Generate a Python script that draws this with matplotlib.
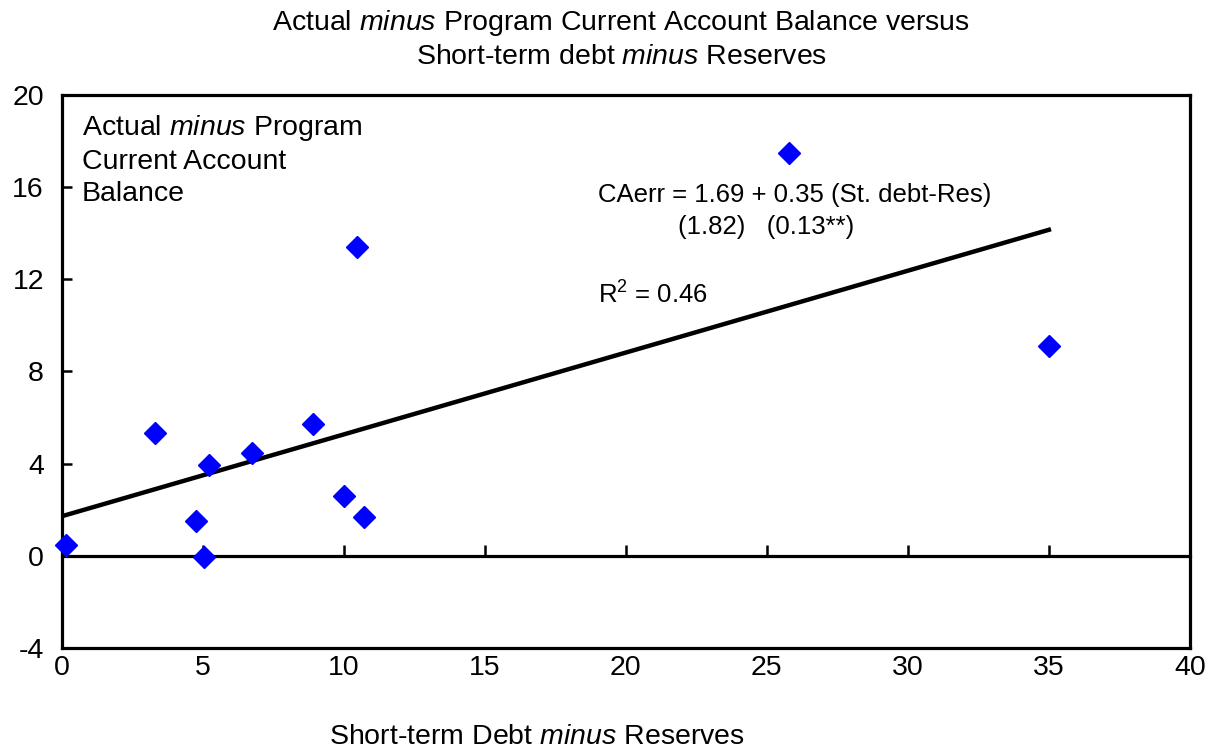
import numpy as np
import matplotlib.pyplot as plt

plt.rcParams['font.family'] = ['Liberation Sans', 'DejaVu Sans']
plt.rcParams['mathtext.fontset'] = 'custom'
plt.rcParams['mathtext.rm'] = 'Liberation Sans'
plt.rcParams['mathtext.it'] = 'Liberation Sans:italic'
plt.rcParams['axes.unicode_minus'] = False

# short-term debt minus reserves vs actual minus program CA balance
st_debt_res = [0.15, 3.3, 4.75, 5.05, 5.2, 6.75, 8.9, 10.0, 10.7, 10.45, 25.8, 35.0]
ca_err = [0.45, 5.35, 1.5, -0.05, 3.95, 4.45, 5.7, 2.6, 1.7, 13.4, 17.5, 9.1]

# fitted line as drawn
fit_x = [0, 35]
fit_y = [1.72, 14.15]

xticks = [0, 5, 10, 15, 20, 25, 30, 35, 40]
yticks = [-4, 0, 4, 8, 12, 16, 20]

fig = plt.figure(figsize=(12.18, 7.54), dpi=100)
ax = fig.add_axes([0.0509, 0.1406, 0.926, 0.7334])

ax.plot(fit_x, fit_y, color='black', lw=3.2, zorder=2)
ax.plot(st_debt_res, ca_err, ls='none', marker='D', ms=11, color='#0000ff',
        zorder=3, clip_on=False)

ax.set_xlim(0, 40)
ax.set_ylim(-4, 20)
ax.set_yticks(yticks)
ax.set_xticks(xticks)
ax.tick_params(axis='y', direction='in', length=7, width=1.8, labelsize=20.5, pad=13)
ax.tick_params(axis='x', length=0, labelsize=20.5, pad=5)
for s in ax.spines.values():
    s.set_linewidth(2.3)

# axis line at zero with the x ticks on it
zero_frac = (0 - (-4)) / 24
sec = ax.secondary_xaxis(zero_frac)
sec.set_xticks(xticks[1:-1])
sec.tick_params(axis='x', direction='in', length=8, width=1.8, labelbottom=False,
                labeltop=False)
sec.spines['bottom'].set_linewidth(2.3)

ax.text(0.71, 19.2, 'Actual $\\it{minus}$ Program\nCurrent Account\nBalance',
        fontsize=20.5, va='top', ha='left', linespacing=1.3)
ax.text(19.0, 15.65, 'CAerr = 1.69 + 0.35 (St. debt-Res)', fontsize=18.5,
        va='center', ha='left')
ax.text(21.85, 14.25, '(1.82)   (0.13**)', fontsize=18.5, va='center', ha='left')
ax.text(19.0, 11.3, 'R$^2$ = 0.46', fontsize=18.5, va='center', ha='left')

fig.text(0.51, 0.97, 'Actual $\\it{minus}$ Program Current Account Balance versus',
         fontsize=20.5, ha='center', va='center')
fig.text(0.51, 0.924, 'Short-term debt $\\it{minus}$ Reserves',
         fontsize=20.5, ha='center', va='center')
fig.text(0.441, 0.022, 'Short-term Debt $\\it{minus}$ Reserves',
         fontsize=20.5, ha='center', va='center')

fig.savefig('out.png', dpi=100)
